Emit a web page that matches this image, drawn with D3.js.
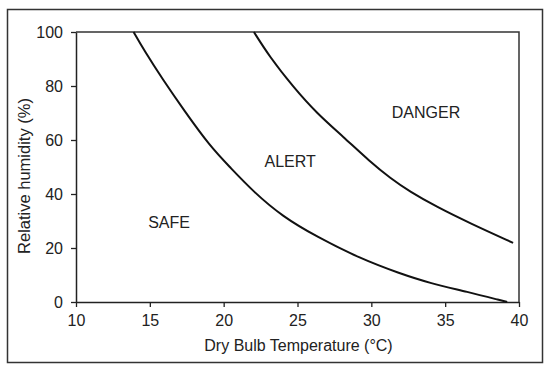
<!DOCTYPE html>
<html>
<head>
<meta charset="utf-8">
<script src="https://cdn.jsdelivr.net/npm/d3@7"></script>
<style>
  body { margin: 0; background: #fff; }
  svg { display: block; font-family: Arial, "Liberation Sans", sans-serif; }
</style>
</head>
<body>
<div id="chart"></div>
<script>
//Comfort zones by dry bulb temperature and relative humidity.

//Boundary between SAFE and ALERT, [temperature, humidity]
var safeAlert = [
  [13.9, 100], [14.6, 93.3], [15.9, 82.2], [17.3, 71.1], [19.1, 57.5],
  [20.4, 50.1], [22.0, 40.9], [24.0, 31.6], [26.3, 24.2], [29.2, 16.2],
  [31.9, 10.6], [34.0, 6.9], [36.5, 3.8], [38.9, 0.4], [39.2, 0]
];

//Boundary between ALERT and DANGER
var alertDanger = [
  [22.05, 100], [23.1, 90.9], [24.7, 79.7], [26.3, 69.9], [28.1, 61.2],
  [29.9, 52.0], [31.3, 45.8], [32.6, 40.9], [34.4, 35.3], [36.7, 29.1],
  [39.6, 21.9]
];

//zone names and where they sit
var zoneNames = ["SAFE", "ALERT", "DANGER"];
var zoneTemps = [16.3, 24.5, 33.7];
var zoneHumidity = [29.4, 52.2, 70.4];

var xTicks = [10, 15, 20, 25, 30, 35, 40];
var yTicks = [0, 20, 40, 60, 80, 100];

var width = 550;
var height = 371;
var margin = {top: 32, right: 31, bottom: 69, left: 76};

var svg = d3.select("div#chart")
  .append("svg")
  .attr("width", width)
  .attr("height", height);

//outer frame around the whole figure
svg.append("rect")
  .attr("x", 7.5)
  .attr("y", 9.5)
  .attr("width", 535)
  .attr("height", 353)
  .attr("fill", "none")
  .attr("stroke", "#333")
  .attr("stroke-width", 1.5);

var x = d3.scaleLinear()
  .domain([10, 40])
  .range([margin.left, width - margin.right]);

var y = d3.scaleLinear()
  .domain([0, 100])
  .range([height - margin.bottom, margin.top]);

//plot box: top and right edges
svg.append("path")
  .attr("d", "M" + x(10) + "," + y(100) + "H" + x(40) + "V" + y(0))
  .attr("fill", "none")
  .attr("stroke", "#333")
  .attr("stroke-width", 1.5);

var xAxis = svg.append("g")
  .attr("transform", "translate(0," + y(0) + ")")
  .call(d3.axisBottom(x).tickValues(xTicks).tickSize(5).tickPadding(8).tickSizeOuter(0));

var yAxis = svg.append("g")
  .attr("transform", "translate(" + x(10) + ",0)")
  .call(d3.axisLeft(y).tickValues(yTicks).tickSize(5).tickPadding(8).tickSizeOuter(0));

[xAxis, yAxis].forEach(a => {
  a.attr("font-family", null).attr("font-size", null);
  a.select(".domain").attr("stroke", "#222").attr("stroke-width", 1.5);
  a.selectAll(".tick line").attr("stroke", "#222").attr("stroke-width", 1.3);
  a.selectAll(".tick text").attr("fill", "#222").style("font-size", "16px");
});

//axis titles
svg.append("text")
  .attr("x", (x(10) + x(40)) / 2 + 1)
  .attr("y", 351)
  .attr("text-anchor", "middle")
  .attr("fill", "#222")
  .style("font-size", "16px")
  .text("Dry Bulb Temperature (\u00b0C)");

svg.append("text")
  .attr("transform", "translate(30,176) rotate(-90)")
  .attr("text-anchor", "middle")
  .attr("fill", "#222")
  .style("font-size", "16.5px")
  .text("Relative humidity (%)");

//zone boundary curves
var line = d3.line()
  .x(d => x(d[0]))
  .y(d => y(d[1]))
  .curve(d3.curveBasis);

svg.selectAll("path.boundary")
  .data([safeAlert, alertDanger])
  .enter().append("path")
    .attr("class", "boundary")
    .attr("d", line)
    .attr("fill", "none")
    .attr("stroke", "#111")
    .attr("stroke-width", 2);

//zone labels
svg.selectAll("text.zone")
  .data(zoneNames)
  .enter().append("text")
    .attr("class", "zone")
    .attr("x", (d, i) => x(zoneTemps[i]))
    .attr("y", (d, i) => y(zoneHumidity[i]))
    .attr("dy", "0.36em")
    .attr("text-anchor", "middle")
    .attr("fill", "#222")
    .style("font-size", "16px")
    .text(d => d);
</script>
</body>
</html>
